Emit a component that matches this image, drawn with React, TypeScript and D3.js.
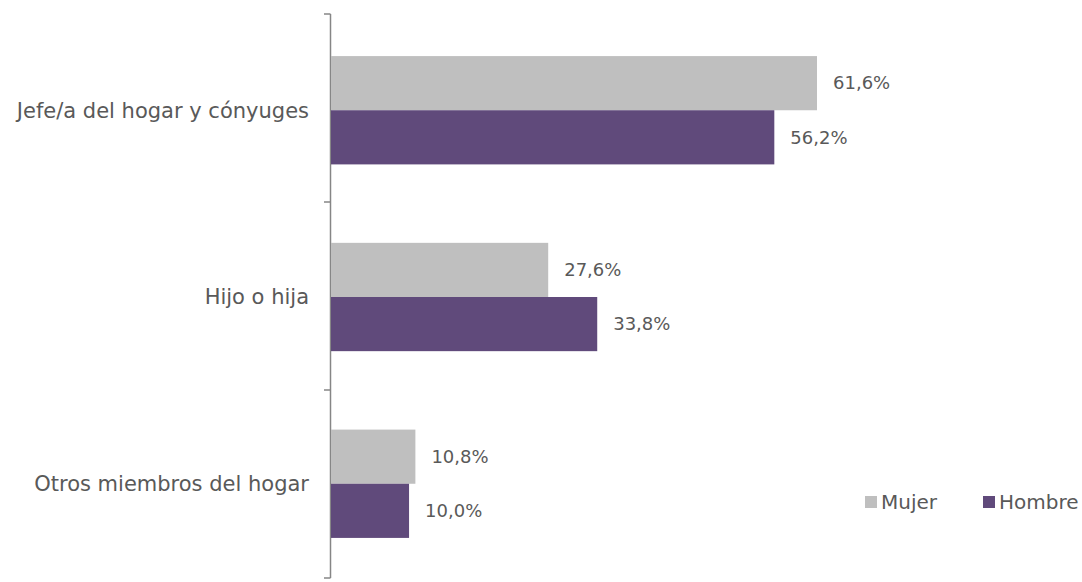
import * as d3 from "d3";
import React, { useEffect, useRef } from "react";

const categories = [
  "Jefe/a del hogar y cónyuges",
  "Hijo o hija",
  "Otros miembros del hogar",
];
const seriesNames = ["Mujer", "Hombre"];
const mujer = [61.6, 27.6, 10.8];
const hombre = [56.2, 33.8, 10.0];
const colors = ["#bfbfbf", "#604a7b"];

const App: React.FC = () => {
  const svgRef = useRef<SVGSVGElement | null>(null);

  useEffect(() => {
    if (!svgRef.current) return;
    const svg = d3.select(svgRef.current);
    svg.selectAll("*").remove();

    const font = "'DejaVu Sans', sans-serif";
    const textColor = "#595959";

    const y = d3
      .scaleBand<string>()
      .domain(categories)
      .range([14, 578])
      .paddingInner(0.42)
      .paddingOuter(0.22);

    const ySub = d3
      .scaleBand<string>()
      .domain(seriesNames)
      .range([0, y.bandwidth()]);

    const x = d3.scaleLinear().domain([0, 100]).range([330, 1120.6]);

    const rows = categories.map((c, i) => ({
      cat: c,
      values: [mujer[i], hombre[i]],
    }));

    // axis line with ticks between categories
    const axisY = d3
      .scaleLinear()
      .domain([0, categories.length])
      .range([14, 578]);
    svg
      .append("line")
      .attr("x1", 330.5)
      .attr("x2", 330.5)
      .attr("y1", axisY(0))
      .attr("y2", axisY(categories.length))
      .attr("stroke", "#868686")
      .attr("stroke-width", 1.5);
    svg
      .selectAll(".tick")
      .data(d3.range(categories.length + 1))
      .enter()
      .append("line")
      .attr("x1", 324)
      .attr("x2", 330.5)
      .attr("y1", (d) => axisY(d))
      .attr("y2", (d) => axisY(d))
      .attr("stroke", "#868686")
      .attr("stroke-width", 1.5);

    // bars
    const groups = svg
      .selectAll(".grp")
      .data(rows)
      .enter()
      .append("g")
      .attr("transform", (d) => `translate(0,${y(d.cat)! + 1})`);

    groups
      .selectAll("rect")
      .data((d) => d.values.map((v, j) => ({ v, s: seriesNames[j], j })))
      .enter()
      .append("rect")
      .attr("x", x(0) + 1)
      .attr("y", (d) => ySub(d.s)!)
      .attr("width", (d) => x(d.v) - x(0) - 1)
      .attr("height", ySub.bandwidth())
      .attr("fill", (d) => colors[d.j]);

    groups
      .selectAll(".val")
      .data((d) => d.values.map((v, j) => ({ v, s: seriesNames[j], j })))
      .enter()
      .append("text")
      .attr("x", (d) => x(d.v) + 16)
      .attr("y", (d) => ySub(d.s)! + ySub.bandwidth() / 2)
      .attr("dy", "0.35em")
      .attr("font-family", font)
      .attr("font-size", "18px")
      .attr("fill", textColor)
      .text((d) => d.v.toFixed(1).replace(".", ",") + "%");

    // category labels
    svg
      .selectAll(".cat")
      .data(categories)
      .enter()
      .append("text")
      .attr("x", 309)
      .attr("y", (d) => y(d)! + y.bandwidth() / 2 + 1)
      .attr("dy", "0.35em")
      .attr("text-anchor", "end")
      .attr("font-family", font)
      .attr("font-size", "21px")
      .attr("fill", textColor)
      .text((d) => d);

    // legend
    const legendX = [865, 983];
    const legend = svg
      .selectAll(".leg")
      .data(seriesNames)
      .enter()
      .append("g")
      .attr("transform", (d, i) => `translate(${legendX[i]},502)`);
    legend
      .append("rect")
      .attr("x", 0)
      .attr("y", -6)
      .attr("width", 12)
      .attr("height", 12)
      .attr("fill", (d, i) => colors[i]);
    legend
      .append("text")
      .attr("x", 16)
      .attr("y", 0)
      .attr("dy", "0.35em")
      .attr("font-family", font)
      .attr("font-size", "20px")
      .attr("fill", textColor)
      .text((d) => d);
  }, []);

  return (
    <svg
      ref={svgRef}
      width={1082}
      height={582}
      style={{ position: "absolute", left: 0, top: 0, background: "#fff" }}
    ></svg>
  );
};

export default App;
